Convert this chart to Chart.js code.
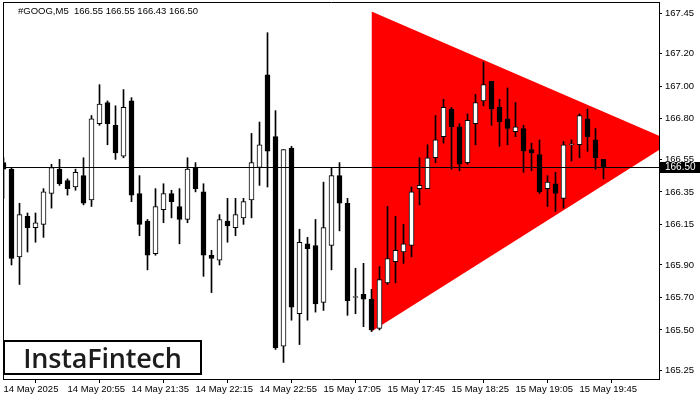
<!DOCTYPE html>
<html>
<head>
<meta charset="utf-8">
<script src="https://cdn.jsdelivr.net/npm/chart.js@4.4.1/dist/chart.umd.min.js"></script>
<style>
  html, body { margin: 0; padding: 0; background: #fff; }
  #wrap { position: relative; width: 700px; height: 400px; }
  #title {
    position: absolute; left: 18px; top: 5px;
    font: 9.5px/12px "Liberation Sans", sans-serif; color: #000;
    white-space: pre;
  }
  #logo {
    position: absolute; left: 3px; top: 340px; width: 199px; height: 35px;
    box-sizing: border-box; border: 2px solid #000;
    font: 600 27px/31px "Open Sans", sans-serif; color: #1c1c1c;
    letter-spacing: -0.2px;
    text-align: center;
  }
</style>
</head>
<body>
<div id="wrap">
  <canvas id="chart"></canvas>
  <div id="title"></div>
  <div id="logo">InstaFintech</div>
</div>
<script>
// GOOG M5 candles, 14 May 20:15 .. 15 May 20:00
const open = [
  166.53, 166.49, 165.95, 166.20, 166.13, 166.15, 166.34, 166.49, 166.42, 166.38,
  166.45, 166.30, 166.77, 166.90, 166.76, 166.57, 166.91, 166.34, 166.17, 165.97,
  166.24, 166.34, 166.26, 166.18, 166.50, 166.35, 165.96, 165.93, 166.17, 166.13,
  166.19, 166.30, 166.50, 167.07, 166.69, 165.40, 166.62, 165.60, 166.03, 166.02,
  165.67, 166.02, 166.45, 166.28, 165.70, 165.72, 165.69, 165.51, 165.79, 165.92,
  165.98, 166.02, 166.37, 166.37, 166.56, 166.69, 166.86, 166.75, 166.53, 166.77,
  166.91, 167.03, 166.87, 166.80, 166.72, 166.74, 166.61, 166.58, 166.37, 166.40,
  166.31, 166.64, 166.64, 166.80, 166.67, 166.55
];
const high = [
  166.56, 166.50, 166.28, 166.22, 166.22, 166.37, 166.52, 166.55, 166.43, 166.49,
  166.56, 166.82, 167.01, 166.91, 166.88, 166.98, 166.93, 166.45, 166.18, 166.37,
  166.40, 166.36, 166.37, 166.56, 166.53, 166.40, 165.99, 166.21, 166.31, 166.31,
  166.31, 166.71, 166.78, 167.33, 166.85, 166.61, 166.63, 166.12, 166.07, 166.18,
  166.41, 166.50, 166.53, 166.31, 165.88, 165.91, 165.75, 165.89, 166.26, 166.20,
  166.15, 166.38, 166.56, 166.64, 166.82, 166.92, 166.87, 166.77, 166.83, 166.95,
  167.15, 167.03, 166.92, 166.99, 166.90, 166.76, 166.65, 166.67, 166.45, 166.47,
  166.66, 166.67, 166.83, 166.86, 166.74, 166.55
];
const low = [
  166.31, 165.90, 165.78, 165.98, 166.04, 166.07, 166.25, 166.39, 166.33, 166.36,
  166.27, 166.26, 166.76, 166.64, 166.55, 166.56, 166.29, 166.08, 165.87, 165.96,
  166.16, 166.19, 166.03, 166.16, 166.35, 165.83, 165.73, 165.90, 166.04, 166.08,
  166.15, 166.19, 166.39, 166.38, 165.38, 165.30, 165.56, 165.41, 165.56, 165.61,
  165.62, 165.87, 166.11, 165.59, 165.60, 165.52, 165.49, 165.50, 165.78, 165.79,
  165.91, 165.95, 166.27, 166.37, 166.53, 166.65, 166.49, 166.48, 166.52, 166.64,
  166.88, 166.76, 166.63, 166.64, 166.69, 166.47, 166.48, 166.34, 166.26, 166.23,
  166.25, 166.54, 166.56, 166.60, 166.49, 166.43
];
const close = [
  166.49, 165.94, 166.21, 166.13, 166.16, 166.35, 166.50, 166.40, 166.37, 166.47,
  166.28, 166.80, 166.89, 166.77, 166.59, 166.87, 166.33, 166.15, 165.96, 166.26,
  166.34, 166.29, 166.18, 166.49, 166.37, 165.96, 165.94, 166.18, 166.14, 166.21,
  166.29, 166.53, 166.64, 166.60, 165.39, 166.61, 165.64, 166.04, 166.00, 165.66,
  166.13, 166.45, 166.28, 165.68, 165.70, 165.69, 165.50, 165.81, 165.94, 165.99,
  166.03, 166.35, 166.39, 166.56, 166.67, 166.87, 166.75, 166.52, 166.79, 166.90,
  167.01, 166.86, 166.78, 166.74, 166.75, 166.60, 166.59, 166.35, 166.41, 166.34,
  166.64, 166.64, 166.82, 166.69, 166.56, 166.50
];

const tickAt = [0, 8, 16, 24, 32, 40, 48, 56, 64, 72];
const tickLabels = [
  "14 May 2025", "14 May 20:55", "14 May 21:35", "14 May 22:15", "14 May 22:55",
  "15 May 17:05", "15 May 17:45", "15 May 18:25", "15 May 19:05", "15 May 19:45"
];
const priceTicks = [167.45, 167.20, 167.00, 166.80, 166.55, 166.35, 166.15, 165.90, 165.70, 165.50, 165.25];

// symmetrical triangle pattern (bar index, price)
const triX = [46, 83.6];
const triUpper = [167.46, 166.66];
const triLower = [165.49, 166.66];

const last = close.length - 1;
const lastPrice = close[last];

// half-pixel shift keeps 1px wicks crisp
const X_MIN = -0.0625;
const X_MAX = 81.9375;
const font = { family: "Liberation Sans", size: 9.5 };

document.getElementById("title").textContent =
  "#GOOG,M5  " + [open[last], high[last], low[last], close[last]].map(v => v.toFixed(2)).join(" ");

const priceTag = {
  id: "priceTag",
  afterDraw(chart) {
    const { ctx, chartArea, scales } = chart;
    const py = Math.floor(scales.y.getPixelForValue(lastPrice));
    ctx.save();
    ctx.fillStyle = "#000";
    ctx.fillRect(chartArea.right + 1, py - 5, 40, 11);
    ctx.fillStyle = "#fff";
    ctx.font = "10px 'Liberation Sans'";
    ctx.textBaseline = "middle";
    ctx.fillText(lastPrice.toFixed(2), chartArea.right + 6, py + 0.5);
    ctx.restore();
  }
};

const frameAxis = {
  display: true,
  ticks: { display: false },
  grid: { display: false },
  border: { display: true, color: "#000" }
};

new Chart(document.getElementById("chart"), {
  type: "bar",
  data: {
    datasets: [
      {
        type: "line",
        data: triX.map((x, i) => ({ x, y: triUpper[i] })),
        borderWidth: 0,
        pointRadius: 0,
        backgroundColor: "#ff0000",
        fill: false,
        order: 5
      },
      {
        type: "line",
        data: triX.map((x, i) => ({ x, y: triLower[i] })),
        borderWidth: 0,
        pointRadius: 0,
        backgroundColor: "#ff0000",
        fill: "-1",
        order: 4
      },
      {
        // wicks
        data: close.map((_, i) => ({ x: i, y: [low[i], high[i]] })),
        backgroundColor: "#000",
        borderWidth: 0,
        barThickness: 1,
        grouped: false,
        order: 3
      },
      {
        // bodies
        data: close.map((c, i) => ({ x: i, y: [open[i], c] })),
        backgroundColor: close.map((c, i) => (c >= open[i] ? "#fff" : "#000")),
        borderColor: "#000",
        borderWidth: 1,
        borderSkipped: false,
        barThickness: 5,
        minBarLength: 1,
        grouped: false,
        order: 2
      },
      {
        type: "line",
        data: [{ x: X_MIN, y: lastPrice }, { x: X_MAX, y: lastPrice }],
        borderColor: "#000",
        borderWidth: 1,
        pointRadius: 0,
        order: 1
      }
    ]
  },
  options: {
    responsive: true,
    maintainAspectRatio: false,
    animation: false,
    events: [],
    layout: { padding: { left: 3, top: 2, right: 0, bottom: 0 } },
    scales: {
      x: {
        type: "linear",
        min: X_MIN,
        max: X_MAX,
        offset: false,
        afterBuildTicks: axis => (axis.ticks = tickAt.map(value => ({ value }))),
        afterFit: axis => {
          axis.height = 21;
          axis.paddingLeft = 0;
          axis.paddingRight = 0;
        },
        ticks: {
          align: "start",
          autoSkip: false,
          maxRotation: 0,
          padding: 1,
          color: "#000",
          font,
          callback: v => tickLabels[tickAt.indexOf(v)]
        },
        grid: { drawOnChartArea: false, tickLength: 4, color: "#000" },
        border: { color: "#000" }
      },
      y: {
        position: "right",
        min: 165.198,
        max: 167.519,
        afterBuildTicks: axis => (axis.ticks = priceTicks.map(value => ({ value }))),
        afterFit: axis => {
          axis.width = 41;
          axis.paddingTop = 0;
          axis.paddingBottom = 0;
        },
        ticks: { padding: 3, color: "#000", font, callback: v => v.toFixed(2) },
        grid: { drawOnChartArea: false, tickLength: 3, color: "#000" },
        border: { color: "#000" }
      },
      xTop: { ...frameAxis, type: "linear", position: "top", afterFit: axis => (axis.height = 0) },
      yLeft: { ...frameAxis, type: "linear", position: "left", afterFit: axis => (axis.width = 0) }
    },
    plugins: {
      legend: { display: false },
      tooltip: { enabled: false }
    }
  },
  plugins: [priceTag]
});
</script>
</body>
</html>
